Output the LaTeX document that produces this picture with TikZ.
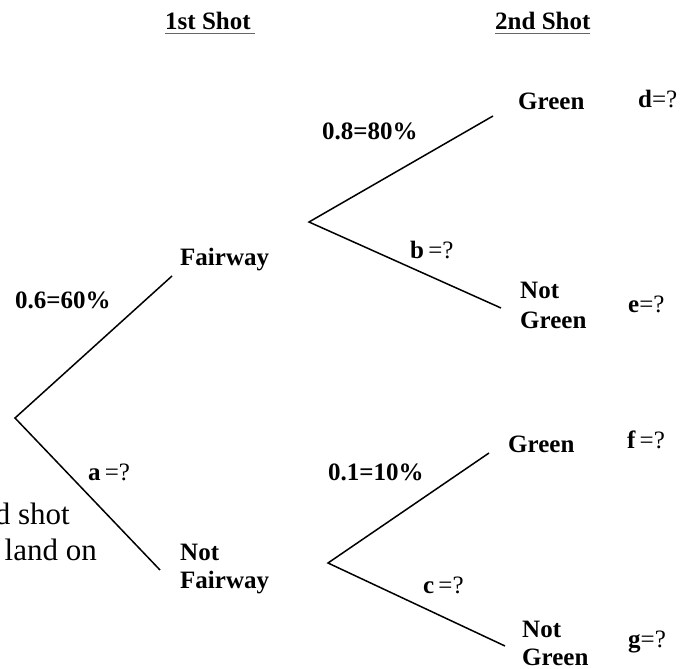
\documentclass[tikz,border=0pt]{standalone}
\usepackage{fontspec}
\setmainfont{Liberation Serif}
\begin{document}
\begin{tikzpicture}[x=1pt,y=-1pt,
  lbl/.style={font=\fontsize{25}{28}\selectfont\bfseries, inner sep=0pt, anchor=base west},
  side/.style={font=\fontsize{31}{35}\selectfont, inner sep=0pt, anchor=base east},
  branch/.style={line width=1.5pt, black},
  uline/.style={line width=1.5pt, black!60}]
\useasboundingbox (0,0) rectangle (692,668);
\clip (0,0) rectangle (692,668);
% tree points
\coordinate (root) at (15,418);
\coordinate (fw) at (172,276);
\coordinate (nfw) at (160,570);
\coordinate (m1) at (309,222);
\coordinate (g1) at (493,116);
\coordinate (ng1) at (501,308);
\coordinate (m2) at (328,563);
\coordinate (g2) at (489,453);
\coordinate (ng2) at (505,646);
% branches
\draw[branch] (fw) -- (root) -- (nfw);
\draw[branch] (g1) -- (m1) -- (ng1);
\draw[branch] (g2) -- (m2) -- (ng2);
% headings
\node[lbl] (h1) at (165,30) {1st Shot};
\node[lbl] (h2) at (495,30) {2nd Shot};
\draw[uline] (h1.base west) ++(0,3.5) -- ++(90,0);
\draw[uline] (h2.base west) ++(0,3.5) -- ++(95,0);
% first level labels
\node[lbl] (p1) at (15,308) {0.6=60\%};
\node[lbl] (fwl) at (180,265) {Fairway};
\node[lbl] (nfwa) at (180,560) {Not};
\node[lbl] (nfwb) at (180,588) {Fairway};
\node[lbl] (pa) at (88,480) {a\,\mdseries=?};
% upper second level
\node[lbl] (p2) at (322,140) {0.8=80\%};
\node[lbl] (pb) at (410,258) {b\,\mdseries=?};
\node[lbl] (gr1) at (518,110) {Green};
\node[lbl] (ngr1a) at (520,298) {Not};
\node[lbl] (ngr1b) at (520,328) {Green};
\node[lbl] (pd) at (638,108) {d\mdseries=?};
\node[lbl] (pe) at (628,312) {e\mdseries=?};
% lower second level
\node[lbl] (p3) at (328,480) {0.1=10\%};
\node[lbl] (pc) at (423,593) {c\,\mdseries=?};
\node[lbl] (gr2) at (508,452) {Green};
\node[lbl] (ngr2a) at (522,637) {Not};
\node[lbl] (ngr2b) at (522,665) {Green};
\node[lbl] (pf) at (627,448) {f\,\mdseries=?};
\node[lbl] (pg) at (628,647) {g\mdseries=?};
% clipped side text
\node[side] (s1) at (70,524) {d shot};
\node[side] (s2) at (97,560) {land on};
\end{tikzpicture}
\end{document}
